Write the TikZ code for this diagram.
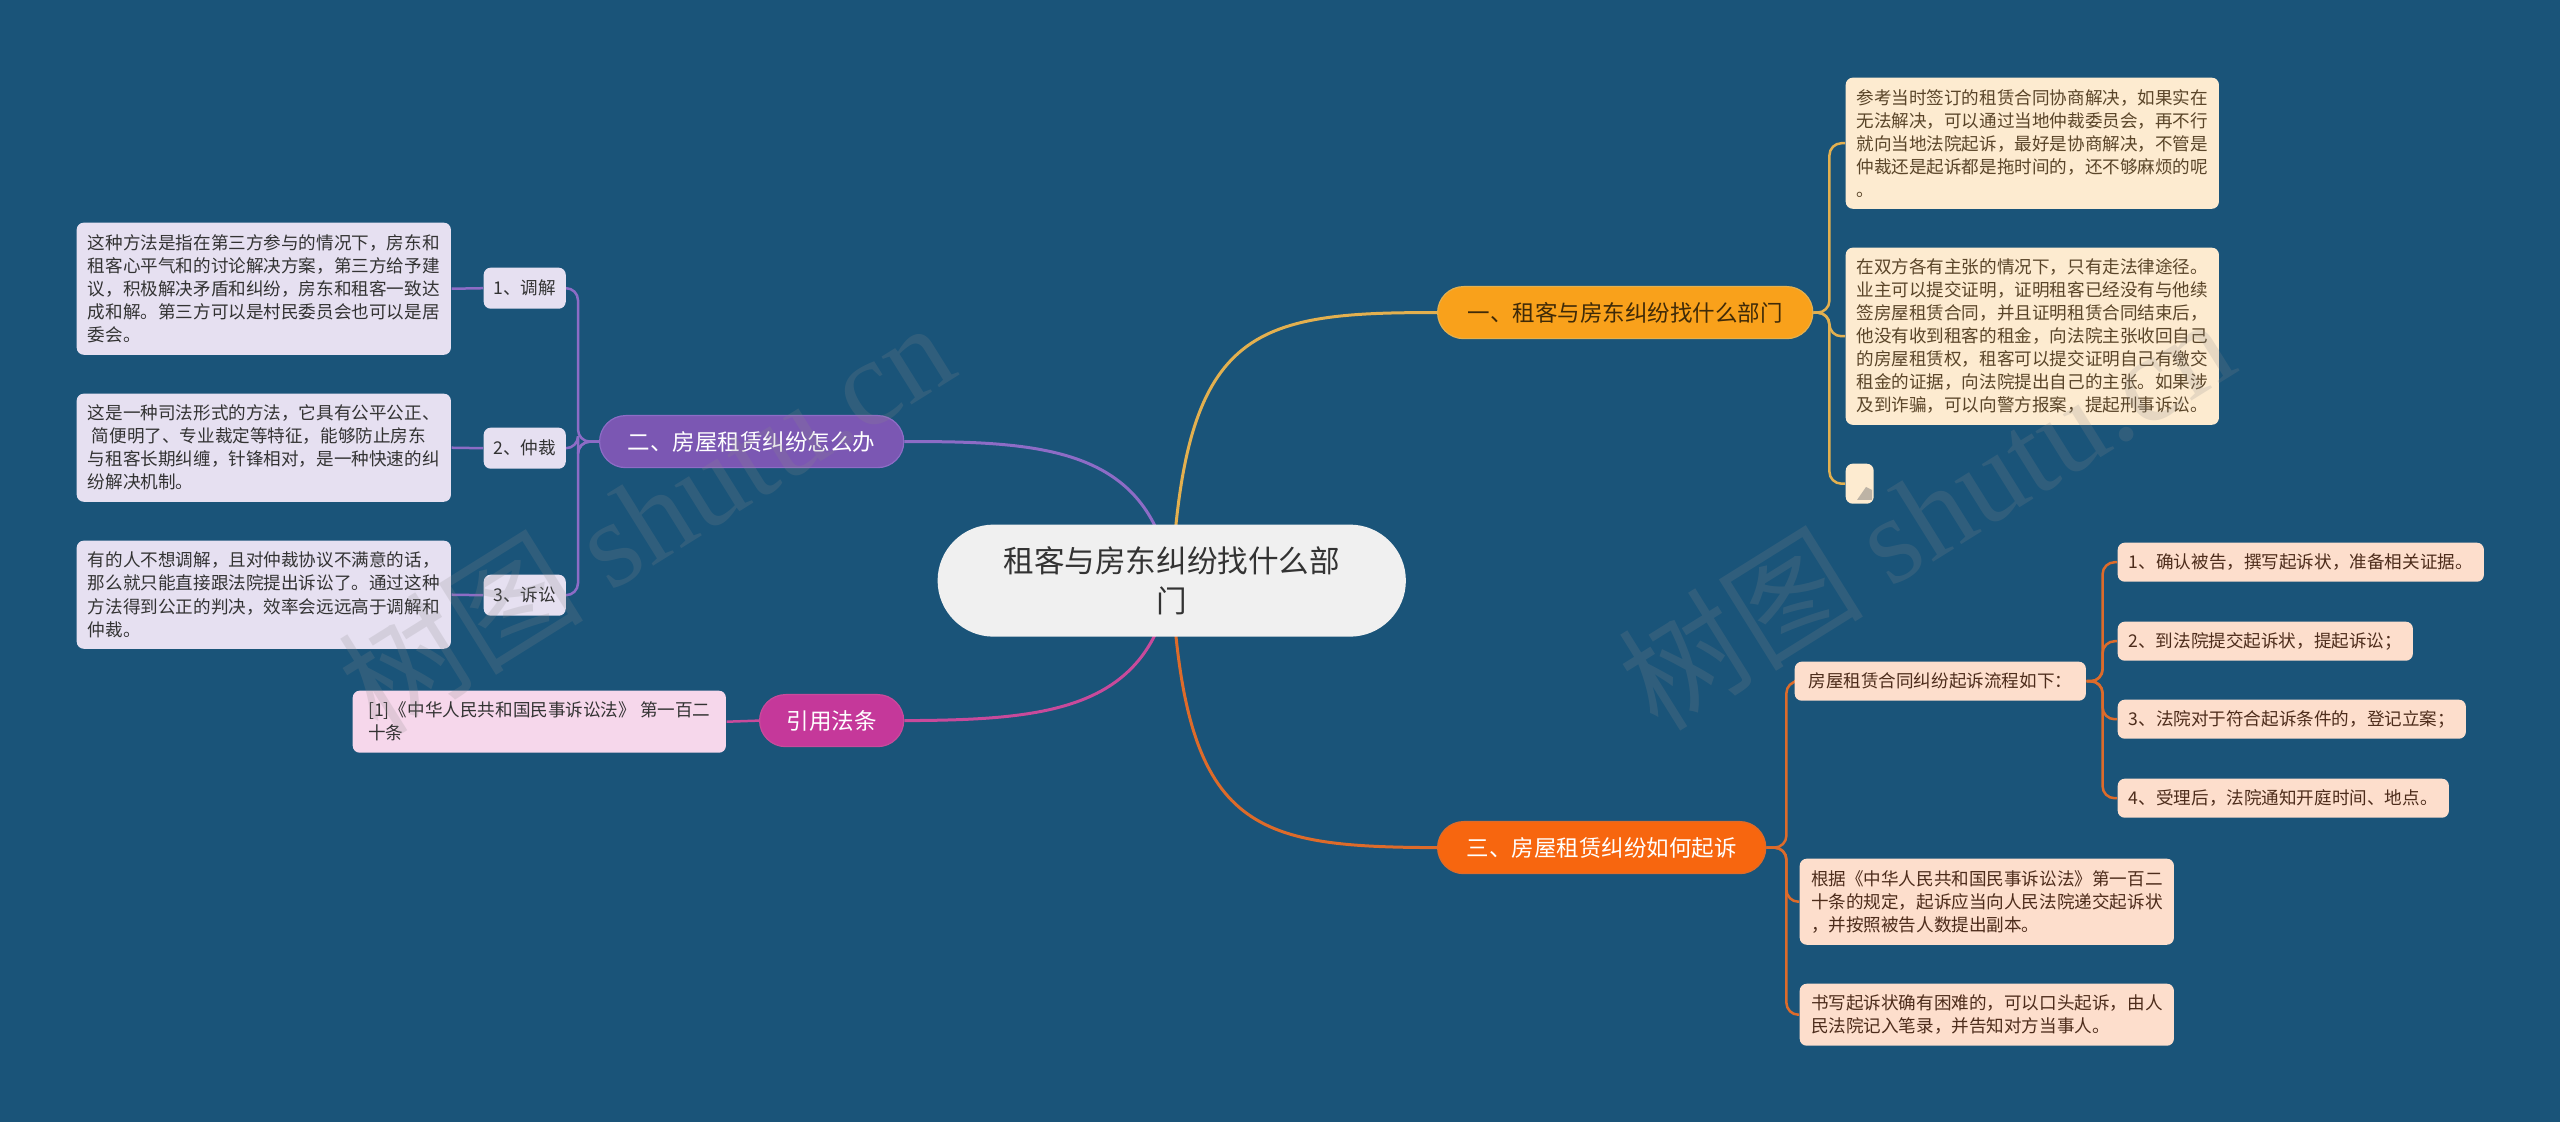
\documentclass[tikz,border=0pt]{standalone}
\usepackage{fontspec}
\setmainfont{Noto Sans CJK SC}
\newfontfamily\wmlatin{Liberation Serif}
\definecolor{bgc}{HTML}{1A5479}
\definecolor{cenfill}{HTML}{F0F0F0}
\definecolor{centext}{HTML}{333333}
\definecolor{b1fill}{HTML}{F9A11B}
\definecolor{b1text}{HTML}{3F2A08}
\definecolor{b1line}{HTML}{E3B04F}
\definecolor{l1fill}{HTML}{FDEBD0}
\definecolor{l1text}{HTML}{5A4529}
\definecolor{b2fill}{HTML}{7B57B3}
\definecolor{b2line}{HTML}{8D6CC6}
\definecolor{l2fill}{HTML}{E6E0F1}
\definecolor{l2text}{HTML}{333333}
\definecolor{b3fill}{HTML}{F7660F}
\definecolor{b3line}{HTML}{DD6B2A}
\definecolor{l3fill}{HTML}{FDDECC}
\definecolor{l3text}{HTML}{4D2C1B}
\definecolor{b4fill}{HTML}{C5389A}
\definecolor{b4line}{HTML}{C84A9B}
\definecolor{l4fill}{HTML}{F6D7EB}
\definecolor{l4text}{HTML}{333333}
\definecolor{wmc}{HTML}{8A8A8A}
\definecolor{iconc}{HTML}{BDB3A5}
\pgfdeclarelayer{bglayer}
\pgfdeclarelayer{edgelayer}
\pgfdeclarelayer{wmlayer}
\pgfsetlayers{bglayer,edgelayer,main,wmlayer}
\begin{document}
\begin{tikzpicture}[x=0.01cm,y=-0.01cm,
  box/.style={anchor=north west,inner sep=0pt,align=left,rounded corners=0.07cm,font=\fontsize{5pt}{6.55pt}\selectfont},
  leafA/.style={box,fill=l1fill,text=l1text},
  leafB/.style={box,fill=l2fill,text=l2text},
  leafC/.style={box,fill=l3fill,text=l3text},
  leafD/.style={box,fill=l4fill,text=l4text},
  pill/.style={anchor=north west,inner sep=0pt,align=center,rounded corners=0.26cm,minimum height=0.52cm,font=\fontsize{6.4pt}{8pt}\selectfont,line width=0.012cm},
  mainline/.style={line width=0.03cm},
  brline/.style={line width=0.025cm,rounded corners=0.12cm},
  wmark/.style={rotate=32,text=wmc,opacity=0.2,font=\fontsize{35pt}{35pt}\selectfont},
]
\useasboundingbox (0,0) rectangle (2560,1122);
\begin{pgfonlayer}{bglayer}
\fill[bgc] (0,0) rectangle (2560,1122);
\end{pgfonlayer}

% central node
\node[pill,minimum width=4.68cm,minimum height=1.12cm,rounded corners=0.56cm,fill=cenfill,text=centext,font=\fontsize{8.7pt}{11.4pt}\selectfont] (c) at (937,524) {租客与房东纠纷找什么部\\门};

% main branches
\node[pill,minimum width=3.75cm,fill=b1fill,draw=b1line,text=b1text] (b1) at (1437,286) {一、租客与房东纠纷找什么部门};
\node[pill,minimum width=3.04cm,fill=b2fill,draw=b2line,text=white] (b2) at (599,415) {二、房屋租赁纠纷怎么办};
\node[pill,minimum width=3.28cm,fill=b3fill,draw=b3line,text=white] (b3) at (1437,821) {三、房屋租赁纠纷如何起诉};
\node[pill,minimum width=1.44cm,fill=b4fill,draw=b4line,text=white] (b4) at (759,694) {引用法条};

% branch 1 leaves
\node[leafA,minimum width=3.73cm,minimum height=1.31cm] (a1) at (1845,77) {参考当时签订的租赁合同协商解决，如果实在\\无法解决，可以通过当地仲裁委员会，再不行\\就向当地法院起诉，最好是协商解决，不管是\\仲裁还是起诉都是拖时间的，还不够麻烦的呢\\。};
\node[leafA,minimum width=3.73cm,minimum height=1.77cm] (a2) at (1845,247) {在双方各有主张的情况下，只有走法律途径。\\业主可以提交证明，证明租客已经没有与他续\\签房屋租赁合同，并且证明租赁合同结束后，\\他没有收到租客的租金，向法院主张收回自己\\的房屋租赁权，租客可以提交证明自己有缴交\\租金的证据，向法院提出自己的主张。如果涉\\及到诈骗，可以向警方报案，提起刑事诉讼。};
\node[leafA,minimum width=0.28cm,minimum height=0.40cm] (a3) at (1845,463) {};
\fill[iconc] (1857,500) -- (1866,487) -- (1872,490) -- (1872,500) -- cycle;

% branch 2
\node[leafB,minimum width=0.82cm,minimum height=0.41cm,align=center] (s1) at (483,267) {1、调解};
\node[leafB,minimum width=0.82cm,minimum height=0.41cm,align=center] (s2) at (483,427) {2、仲裁};
\node[leafB,minimum width=0.82cm,minimum height=0.41cm,align=center] (s3) at (483,574) {3、诉讼};
\node[leafB,minimum width=3.74cm,minimum height=1.32cm] (t1) at (76,222) {这种方法是指在第三方参与的情况下，房东和\\租客心平气和的讨论解决方案，第三方给予建\\议，积极解决矛盾和纠纷，房东和租客一致达\\成和解。第三方可以是村民委员会也可以是居\\委会。};
\node[leafB,minimum width=3.74cm,minimum height=1.08cm] (t2) at (76,393) {这是一种司法形式的方法，它具有公平公正、\\\ 简便明了、专业裁定等特征，能够防止房东\\与租客长期纠缠，针锋相对，是一种快速的纠\\纷解决机制。};
\node[leafB,minimum width=3.74cm,minimum height=1.08cm] (t3) at (76,540) {有的人不想调解，且对仲裁协议不满意的话，\\那么就只能直接跟法院提出诉讼了。通过这种\\方法得到公正的判决，效率会远远高于调解和\\仲裁。};

% branch 4
\node[leafD,minimum width=3.73cm,minimum height=0.62cm] (d1) at (352,690) {[1]《中华人民共和国民事诉讼法》 第一百二\\十条};

% branch 3
\node[leafC,minimum width=2.91cm,minimum height=0.39cm] (p) at (1794,661) {房屋租赁合同纠纷起诉流程如下：};
\node[leafC,minimum width=3.66cm,minimum height=0.39cm] (q1) at (2117,542) {1、确认被告，撰写起诉状，准备相关证据。};
\node[leafC,minimum width=2.95cm,minimum height=0.39cm] (q2) at (2117,621) {2、到法院提交起诉状，提起诉讼；};
\node[leafC,minimum width=3.48cm,minimum height=0.39cm] (q3) at (2117,699) {3、法院对于符合起诉条件的，登记立案；};
\node[leafC,minimum width=3.31cm,minimum height=0.39cm] (q4) at (2117,778) {4、受理后，法院通知开庭时间、地点。};
\node[leafC,minimum width=3.74cm,minimum height=0.86cm] (r1) at (1799,858) {根据《中华人民共和国民事诉讼法》第一百二\\十条的规定，起诉应当向人民法院递交起诉状\\，并按照被告人数提出副本。};
\node[leafC,minimum width=3.74cm,minimum height=0.62cm] (r2) at (1799,983) {书写起诉状确有困难的，可以口头起诉，由人\\民法院记入笔录，并告知对方当事人。};

\begin{pgfonlayer}{edgelayer}
\draw[mainline,b1line] (c.center) .. controls (1185,330) and (1250,312) .. (b1.west);
\draw[mainline,b2line] (c.center) .. controls (1150,450) and (1050,441) .. (b2.east);
\draw[mainline,b4line] (c.center) .. controls (1150,710) and (1050,720) .. (b4.east);
\draw[mainline,b3line] (c.center) .. controls (1185,830) and (1250,847) .. (b3.west);
\foreach \n in {a1,a2,a3} \draw[brline,b1line] (b1.east) -- ++(16,0) |- (\n.west);
\foreach \n in {s1,s2,s3} \draw[brline,b2line] (b2.west) -- ++(-21,0) |- (\n.east);
\foreach \n/\m in {s1/t1,s2/t2,s3/t3} \draw[brline,b2line] (\m.east) -- (\n.west);
\draw[brline,b4line] (d1.east) -- (b4.west);
\foreach \n in {p,r1,r2} \draw[brline,b3line] (b3.east) -- ++(20,0) |- (\n.west);
\foreach \n in {q1,q2,q3,q4} \draw[brline,b3line] (p.east) -- ++(16,0) |- (\n.west);
\end{pgfonlayer}

\begin{pgfonlayer}{wmlayer}
\node[wmark] (w1) at (645,516) {树图 {\wmlatin shutu.cn}};
\node[wmark] (w2) at (1925,512) {树图 {\wmlatin shutu.cn}};
\end{pgfonlayer}
\end{tikzpicture}
\end{document}
